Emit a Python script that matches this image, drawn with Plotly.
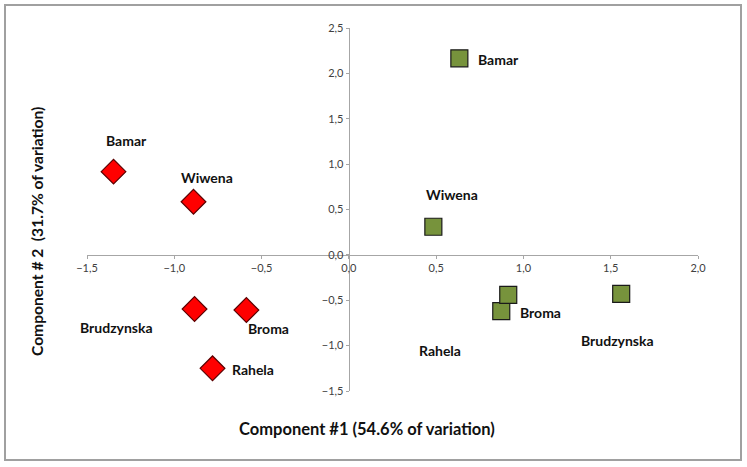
import plotly.graph_objects as go

cultivars = ["Bamar", "Wiwena", "Brudzynska", "Broma", "Rahela"]

# Red diamonds series
red_x = [-1.348, -0.89, -0.884, -0.587, -0.781]
red_y = [0.917, 0.585, -0.597, -0.608, -1.25]
red_lab_x = [-1.275, -0.81, -1.33, -0.46, -0.55]
red_lab_y = [1.26, 0.85, -0.80, -0.81, -1.26]

# Green squares series
green_x = [0.633, 0.484, 1.56, 0.873, 0.913]
green_y = [2.166, 0.31, -0.43, -0.62, -0.44]
green_lab_x = [0.857, 0.59, 1.54, 1.10, 0.52]
green_lab_y = [2.155, 0.67, -0.94, -0.64, -1.05]

x_range = [-1.5, 2.0]
y_range = [-1.5, 2.5]

FONT = "Lato"

fig = go.Figure()
fig.add_trace(go.Scatter(
    x=red_x, y=red_y, mode="markers",
    marker=dict(symbol="diamond", size=19, color="#ff0000",
                line=dict(color="#5a0000", width=1.2)),
    showlegend=False, hoverinfo="skip"))
fig.add_trace(go.Scatter(
    x=green_x, y=green_y, mode="markers",
    marker=dict(symbol="square", size=17, color="#77933c",
                line=dict(color="#1a1a1a", width=1.2)),
    showlegend=False, hoverinfo="skip"))

annos = []
for name, lx, ly in zip(cultivars, red_lab_x, red_lab_y):
    annos.append(dict(x=lx, y=ly, xref="x", yref="y", text="<b>%s</b>" % name,
                      showarrow=False, font=dict(family=FONT, size=14, color="#111111")))
for name, lx, ly in zip(cultivars, green_lab_x, green_lab_y):
    annos.append(dict(x=lx, y=ly, xref="x", yref="y", text="<b>%s</b>" % name,
                      showarrow=False, font=dict(family=FONT, size=14, color="#111111")))

# plot area in px: left 87, right 698, top 28, bottom 391
W, H = 747, 467
L, R, T, B = 87, 698, 28, 391
pw, ph = R - L, B - T

def px_x(px):
    return (px - L) / pw

def px_y(py):
    return (B - py) / ph

annos.append(dict(x=px_x(367), y=px_y(429), xref="paper", yref="paper",
                  xanchor="center", yanchor="middle",
                  text="<b>Component #1 (54.6% of variation)</b>", showarrow=False,
                  font=dict(family=FONT, size=16.5, color="#111111")))
annos.append(dict(x=px_x(37), y=px_y(232), xref="paper", yref="paper",
                  xanchor="center", yanchor="middle",
                  text="<b>Component # 2&nbsp;&nbsp;(31.7% of variation)</b>", showarrow=False,
                  textangle=-90, font=dict(family=FONT, size=15.6, color="#111111")))

xpos = (0 - y_range[0]) / (y_range[1] - y_range[0])
ypos = (0 - x_range[0]) / (x_range[1] - x_range[0])

fig.update_layout(
    width=W, height=H,
    margin=dict(l=L, r=W - R, t=T, b=H - B),
    paper_bgcolor="white", plot_bgcolor="white",
    separators=",.",
    annotations=annos,
    xaxis=dict(range=x_range, dtick=0.5, tick0=-1.5, tickformat=".1f",
               showgrid=False, zeroline=False, showline=True, linecolor="#a6a6a6",
               linewidth=1.3, anchor="free", position=xpos, ticks="outside",
               ticklen=3, tickcolor="#a6a6a6",
               tickfont=dict(family=FONT, size=11, color="#404040")),
    yaxis=dict(range=y_range, dtick=0.5, tick0=-1.5, tickformat=".1f",
               showgrid=False, zeroline=False, showline=True, linecolor="#a6a6a6",
               linewidth=1.3, anchor="free", position=ypos, ticks="outside",
               ticklen=3, tickcolor="#a6a6a6",
               tickfont=dict(family=FONT, size=11, color="#404040")),
    shapes=[dict(type="rect", xref="paper", yref="paper",
                 x0=px_x(5), x1=px_x(741), y0=px_y(460), y1=px_y(5),
                 line=dict(color="#a0a0a0", width=2), fillcolor="rgba(0,0,0,0)",
                 layer="below")],
)

fig.write_html("out.html", config={"displayModeBar": False},
               post_script="document.body.style.margin='0px';document.body.style.padding='0px';")
